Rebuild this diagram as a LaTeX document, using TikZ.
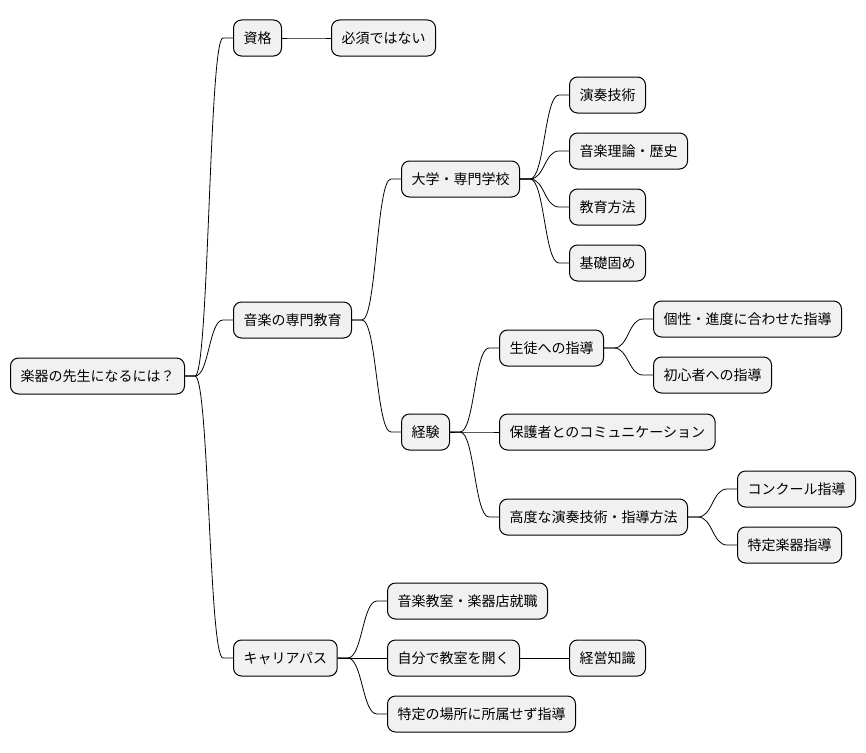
\documentclass[tikz,border=0pt]{standalone}
\usepackage{fontspec}
\setmainfont{Noto Sans CJK JP}
\usetikzlibrary{calc}
\definecolor{nodefill}{HTML}{F1F1F1}
\tikzset{
  mm/.style={draw=black, fill=nodefill, line width=1pt, rounded corners=8pt,
    minimum height=36pt, inner xsep=10pt, inner ysep=0pt, anchor=west,
    font=\fontsize{14pt}{16pt}\selectfont},
  link/.style={draw=black, line width=0.8pt}
}
\newcommand\mmlink[2]{%
  \coordinate (s) at ([xshift=10pt]#1.east);
  \coordinate (e) at ([xshift=-10pt]#2.west);
  \coordinate (m) at ($(s)!0.5!(e)$);
  \draw[link] (#1.east) -- (s) .. controls (m |- s) and (m |- e) .. (e) -- (#2.west);}
\begin{document}
\begin{tikzpicture}[x=1pt,y=-1pt]
\useasboundingbox[fill=white] (0,0) rectangle (866,752);
\node[mm] (root) at (10,376) {楽器の先生になるには？};
\node[mm] (shikaku) at (233,38) {資格};
\node[mm] (hissu) at (331,38) {必須ではない};
\node[mm] (senmon) at (233,320) {音楽の専門教育};
\node[mm] (daigaku) at (401,179) {大学・専門学校};
\node[mm] (ensou) at (569,95) {演奏技術};
\node[mm] (riron) at (569,151) {音楽理論・歴史};
\node[mm] (kyouiku) at (569,207) {教育方法};
\node[mm] (kiso) at (569,263) {基礎固め};
\node[mm] (keiken) at (401,432) {経験};
\node[mm] (seito) at (499,348) {生徒への指導};
\node[mm] (kosei) at (653,319) {個性・進度に合わせた指導};
\node[mm] (shoshin) at (653,375) {初心者への指導};
\node[mm] (hogo) at (499,432) {保護者とのコミュニケーション};
\node[mm] (koudo) at (499,517) {高度な演奏技術・指導方法};
\node[mm] (concours) at (737,489) {コンクール指導};
\node[mm] (tokutei) at (737,545) {特定楽器指導};
\node[mm] (career) at (233,658) {キャリアパス};
\node[mm] (shuushoku) at (387,601) {音楽教室・楽器店就職};
\node[mm] (jibun) at (387,658) {自分で教室を開く};
\node[mm] (keiei) at (569,658) {経営知識};
\node[mm] (free) at (387,714) {特定の場所に所属せず指導};
\mmlink{root}{shikaku}
\mmlink{shikaku}{hissu}
\mmlink{root}{senmon}
\mmlink{senmon}{daigaku}
\mmlink{daigaku}{ensou}
\mmlink{daigaku}{riron}
\mmlink{daigaku}{kyouiku}
\mmlink{daigaku}{kiso}
\mmlink{senmon}{keiken}
\mmlink{keiken}{seito}
\mmlink{seito}{kosei}
\mmlink{seito}{shoshin}
\mmlink{keiken}{hogo}
\mmlink{keiken}{koudo}
\mmlink{koudo}{concours}
\mmlink{koudo}{tokutei}
\mmlink{root}{career}
\mmlink{career}{shuushoku}
\mmlink{career}{jibun}
\mmlink{jibun}{keiei}
\mmlink{career}{free}
\end{tikzpicture}
\end{document}
